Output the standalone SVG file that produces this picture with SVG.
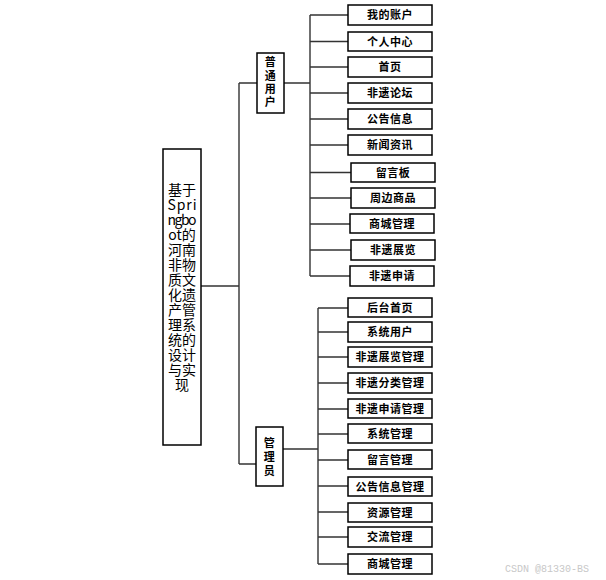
<svg xmlns="http://www.w3.org/2000/svg" width="606" height="580" viewBox="0 0 606 580">
<style>
.bx{fill:#fff;stroke:#000;stroke-width:1.5}
.ln{fill:none;stroke:#333;stroke-width:1.4}
.t{font-family:"Noto Sans CJK SC","Noto Sans",sans-serif;font-weight:bold;font-size:11px;text-anchor:middle;fill:#000;letter-spacing:0.5px}
.r{font-family:"Noto Sans CJK SC","Noto Sans",sans-serif;font-size:14px;text-anchor:middle;fill:#000}
.wm{font-family:"Liberation Mono",monospace;font-size:10px;fill:#c8c8c8}
</style>
<rect width="606" height="580" fill="#fff"/>
<g id="connectors">
<path class="ln" d="M201 286H239M239 83V464M239 83H257M239 464H256"/>
<path class="ln" d="M284 83H310M310 15V276M310 15H348M310 41.5H348M310 67H348M310 93H348M310 119H348M310 145H348M310 172.5H351M310 198H351M310 224H350M310 250H351M310 276H350"/>
<path class="ln" d="M283 449H318M318 308V564M318 308H348M318 332H348M318 357H348M318 383H348M318 409H348M318 434H348M318 460H348M318 486H348M318 512H348M318 537H348M318 564H348"/>
</g>
<g id="root">
<rect class="bx" x="163" y="149" width="38" height="296"/>
<text class="r"><tspan x="182" y="195">基于</tspan><tspan x="182" y="210" textLength="29" lengthAdjust="spacing">Spri</tspan><tspan x="182" y="225" textLength="29" lengthAdjust="spacing">ngbo</tspan><tspan x="182" y="240">ot的</tspan><tspan x="182" y="255">河南</tspan><tspan x="182" y="270">非物</tspan><tspan x="182" y="285">质文</tspan><tspan x="182" y="300">化遗</tspan><tspan x="182" y="315">产管</tspan><tspan x="182" y="330">理系</tspan><tspan x="182" y="345">统的</tspan><tspan x="182" y="360">设计</tspan><tspan x="182" y="375">与实</tspan><tspan x="182" y="390">现</tspan></text>
</g>
<g id="user">
<rect class="bx" x="257" y="53" width="27" height="60"/>
<text class="t"><tspan x="270.5" y="66">普</tspan><tspan x="270.5" y="79.5">通</tspan><tspan x="270.5" y="93">用</tspan><tspan x="270.5" y="106">户</tspan></text>
</g>
<g id="admin">
<rect class="bx" x="256" y="427" width="27" height="59"/>
<text class="t"><tspan x="269.5" y="447">管</tspan><tspan x="269.5" y="461">理</tspan><tspan x="269.5" y="475">员</tspan></text>
</g>
<g id="u1"><rect class="bx" x="348" y="5" width="84" height="20"/><text class="t" x="390" y="19">我的账户</text></g>
<g id="u2"><rect class="bx" x="348" y="32" width="84" height="19"/><text class="t" x="390" y="45.5">个人中心</text></g>
<g id="u3"><rect class="bx" x="348" y="57" width="84" height="20"/><text class="t" x="390" y="71">首页</text></g>
<g id="u4"><rect class="bx" x="348" y="83" width="84" height="20"/><text class="t" x="390" y="97">非遗论坛</text></g>
<g id="u5"><rect class="bx" x="348" y="109" width="84" height="20"/><text class="t" x="390" y="123">公告信息</text></g>
<g id="u6"><rect class="bx" x="348" y="135" width="84" height="20"/><text class="t" x="390" y="149">新闻资讯</text></g>
<g id="u7"><rect class="bx" x="351" y="163" width="84" height="19"/><text class="t" x="393" y="176.5">留言板</text></g>
<g id="u8"><rect class="bx" x="351" y="188" width="84" height="20"/><text class="t" x="393" y="202">周边商品</text></g>
<g id="u9"><rect class="bx" x="350" y="214" width="84" height="19"/><text class="t" x="392" y="228">商城管理</text></g>
<g id="u10"><rect class="bx" x="351" y="240" width="84" height="20"/><text class="t" x="393" y="254">非遗展览</text></g>
<g id="u11"><rect class="bx" x="350" y="266" width="84" height="20"/><text class="t" x="392" y="280">非遗申请</text></g>
<g id="a1"><rect class="bx" x="348" y="298" width="84" height="19"/><text class="t" x="390" y="312">后台首页</text></g>
<g id="a2"><rect class="bx" x="348" y="322" width="84" height="20"/><text class="t" x="390" y="336">系统用户</text></g>
<g id="a3"><rect class="bx" x="348" y="347" width="84" height="20"/><text class="t" x="390" y="361">非遗展览管理</text></g>
<g id="a4"><rect class="bx" x="348" y="373" width="84" height="20"/><text class="t" x="390" y="387">非遗分类管理</text></g>
<g id="a5"><rect class="bx" x="348" y="399" width="84" height="19"/><text class="t" x="390" y="412.5">非遗申请管理</text></g>
<g id="a6"><rect class="bx" x="348" y="424" width="84" height="19"/><text class="t" x="390" y="437.5">系统管理</text></g>
<g id="a7"><rect class="bx" x="348" y="450" width="84" height="19"/><text class="t" x="390" y="463.5">留言管理</text></g>
<g id="a8"><rect class="bx" x="348" y="477" width="84" height="19"/><text class="t" x="390" y="490.5">公告信息管理</text></g>
<g id="a9"><rect class="bx" x="348" y="503" width="84" height="19"/><text class="t" x="390" y="516.5">资源管理</text></g>
<g id="a10"><rect class="bx" x="348" y="527" width="84" height="20"/><text class="t" x="390" y="541">交流管理</text></g>
<g id="a11"><rect class="bx" x="348" y="554" width="84" height="20"/><text class="t" x="390" y="568">商城管理</text></g>
<text class="wm" x="505" y="572">CSDN @81330-BS</text>
</svg>
